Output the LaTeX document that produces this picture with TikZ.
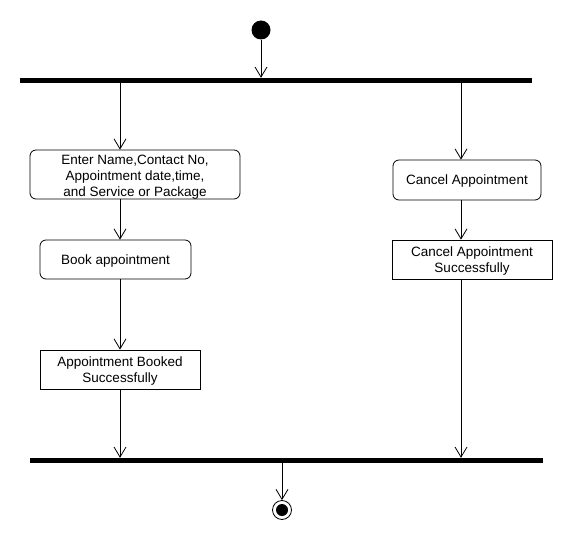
\documentclass[tikz,border=0pt]{standalone}
\usepackage{fontspec}
\setmainfont{Liberation Sans}
\usetikzlibrary{arrows.meta}
\begin{document}
\begin{tikzpicture}[x=1pt,y=-1pt,
  act/.style={draw, line width=0.8pt, rounded corners=6pt, align=center, inner sep=0pt,
    font=\fontsize{13.5}{16}\selectfont},
  sq/.style={act, rounded corners=0pt},
  oneline/.style={text height=9.7pt, text depth=0pt},
  twoline/.style={text height=26.5pt, text depth=0pt},
  threeline/.style={text height=44.6pt, text depth=0pt},
  bar/.style={fill=black, inner sep=0pt, minimum height=5pt},
  flow/.style={draw, line width=0.8pt, -{Straight Barb[length=10pt,width=12pt,line width=0.8pt]}}]
\useasboundingbox (0,0) rectangle (570,540);
\coordinate (cl) at (120,0);
\coordinate (cr) at (461,0);
\coordinate (cm) at (282,0);
\node[circle, fill=black, minimum size=19pt, inner sep=0pt] (init) at (261,30) {};
\node[bar, minimum width=512pt] (fork) at (276,80.5) {};
\node[act, threeline, minimum width=210pt, minimum height=49pt] (a1) at (135,174.5)
  {Enter Name,Contact No,\\Appointment date,time,\\and Service or Package};
\node[act, oneline, minimum width=148pt, minimum height=40pt] (cancel) at (467,180) {Cancel Appointment};
\node[act, oneline, minimum width=151pt, minimum height=39pt] (b) at (115.5,259.5) {Book appointment};
\node[sq, twoline, minimum width=160pt, minimum height=39pt] (cs) at (472,259.5) {Cancel Appointment\\Successfully};
\node[sq, twoline, minimum width=160pt, minimum height=39pt] (ab) at (120,369.5) {Appointment Booked\\Successfully};
\node[bar, minimum width=513pt] (join) at (286.5,460.5) {};
\node[circle, draw, line width=0.8pt, minimum size=19pt, inner sep=0pt] (final) at (282,510) {};
\fill (final.center) circle (6pt);
\draw[flow] (init) -- (init |- fork.north);
\draw[flow] (fork.south -| cl) -- (cl |- a1.north);
\draw[flow] (a1.south -| cl) -- (cl |- b.north);
\draw[flow] (b.south -| cl) -- (cl |- ab.north);
\draw[flow] (ab.south -| cl) -- (cl |- join.north);
\draw[flow] (fork.south -| cr) -- (cr |- cancel.north);
\draw[flow] (cancel.south -| cr) -- (cr |- cs.north);
\draw[flow] (cs.south -| cr) -- (cr |- join.north);
\draw[flow] (join.south -| cm) -- (final.north);
\end{tikzpicture}
\end{document}
